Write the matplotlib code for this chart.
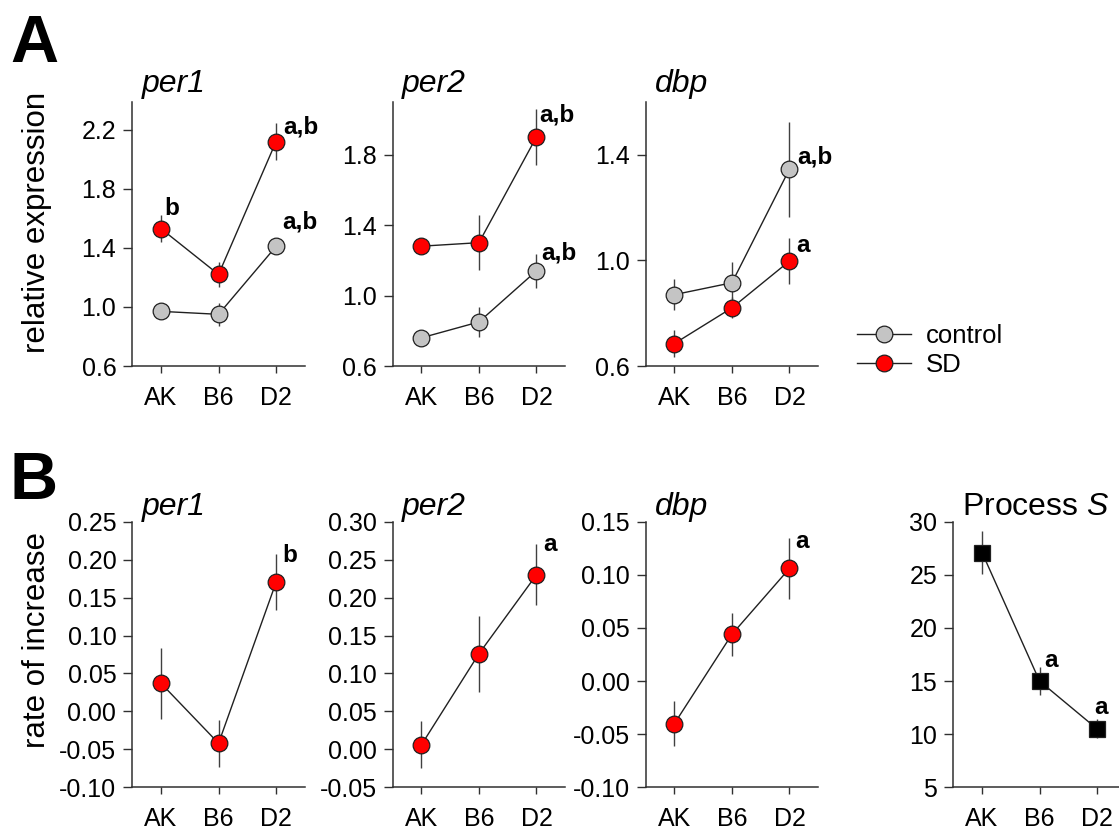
import numpy as np
import matplotlib
matplotlib.use('Agg')
import matplotlib.pyplot as plt
from matplotlib.lines import Line2D

plt.rcParams['font.family'] = ['Liberation Sans', 'DejaVu Sans']
plt.rcParams['axes.unicode_minus'] = False
plt.rcParams['mathtext.fontset'] = 'custom'
plt.rcParams['mathtext.rm'] = 'Liberation Sans'
plt.rcParams['mathtext.it'] = 'Liberation Sans:italic'

strains = ['AK', 'B6', 'D2']

# ---- A: relative expression (mean, error) ----
per1_ctrl = [0.97, 0.95, 1.41]
per1_ctrl_err = [0.03, 0.08, 0.03]
per1_sd = [1.53, 1.22, 2.12]
per1_sd_err = [0.09, 0.087, 0.125]

per2_ctrl = [0.76, 0.85, 1.14]
per2_ctrl_err = [0.03, 0.085, 0.095]
per2_sd = [1.28, 1.30, 1.90]
per2_sd_err = [0.03, 0.155, 0.16]

dbp_ctrl = [0.87, 0.915, 1.345]
dbp_ctrl_err = [0.06, 0.078, 0.18]
dbp_sd = [0.685, 0.82, 0.997]
dbp_sd_err = [0.05, 0.04, 0.087]

# ---- B: rate of increase ----
per1_rate = [0.037, -0.042, 0.170]
per1_rate_err = [0.047, 0.031, 0.037]
per2_rate = [0.006, 0.126, 0.230]
per2_rate_err = [0.031, 0.050, 0.040]
dbp_rate = [-0.040, 0.044, 0.106]
dbp_rate_err = [0.021, 0.020, 0.029]
procS = [27.1, 15.0, 10.5]
procS_err = [2.05, 1.3, 0.9]

# significance letters
per1_ctrl_sig = ['', '', 'a,b']
per1_sd_sig = ['b', '', 'a,b']
per2_ctrl_sig = ['', '', 'a,b']
per2_sd_sig = ['', '', 'a,b']
dbp_ctrl_sig = ['', '', 'a,b']
dbp_sd_sig = ['', '', 'a']
per1_rate_sig = ['', '', 'b']
per2_rate_sig = ['', '', 'a']
dbp_rate_sig = ['', '', 'a']
procS_sig = ['', 'a', 'a']

GREY = '#c4c4c4'
RED = '#ff0000'
DARK = '#202020'

W, H = 1119, 833
fig = plt.figure(figsize=(W / 100, H / 100), dpi=100)

lefts = [132.3, 392.7, 645.7, 953.3]
axw = 172.5
top_row = (101.7, 366.0)
bot_row = (521.7, 787.3)


def make_ax(left, row):
    top, bottom = row
    return fig.add_axes([left / W, 1 - bottom / H, axw / W, (bottom - top) / H])


def style(ax, ylim, ticks, fmt):
    ax.set_xlim(-0.5, 2.5)
    ax.set_ylim(*ylim)
    ax.set_xticks(range(len(strains)))
    ax.set_xticklabels(strains)
    ax.set_yticks(ticks)
    ax.set_yticklabels([fmt.format(round(t, 2) + 0.0) for t in ticks])
    for s in ['top', 'right']:
        ax.spines[s].set_visible(False)
    for s in ['left', 'bottom']:
        ax.spines[s].set_linewidth(1.1)
        ax.spines[s].set_color('#303030')
    ax.tick_params(direction='out', width=1.0, color='#303030', labelsize=18)
    ax.tick_params(axis='y', length=6.5, pad=5)
    ax.tick_params(axis='x', length=5.3, pad=9)


def title(ax, text, dy_px):
    ax.annotate(text, xy=(0, 1), xycoords='axes fraction',
                xytext=(9 * 0.72, dy_px * 0.72), textcoords='offset points',
                fontsize=23, ha='left', va='baseline')


def series(ax, y, err, face, marker='o', ms=12):
    x = np.arange(len(strains))
    ax.errorbar(x, y, yerr=err, fmt='none', ecolor='#404040',
                elinewidth=1.0, capsize=0, zorder=2)
    ax.plot(x, y, '-', color=DARK, lw=1.0, marker=marker, ms=ms,
            mfc=face, mec=DARK, mew=0.9, zorder=3)


def letters(ax, y, sig, offsets):
    for i, lab in enumerate(sig):
        if lab:
            dx, dy = offsets[i]
            ax.annotate(lab, xy=(i, y[i]), xytext=(dx * 0.72, dy * 0.72),
                        textcoords='offset points', fontsize=17.5,
                        fontweight='bold', ha='left', va='baseline')


# ---- row A ----
ax = make_ax(lefts[0], top_row)
series(ax, per1_ctrl, per1_ctrl_err, GREY)
series(ax, per1_sd, per1_sd_err, RED)
style(ax, (0.6, 2.39), np.arange(0.6, 2.21, 0.4), '{:.1f}')
letters(ax, per1_ctrl, per1_ctrl_sig, [None, None, (6, 17.7)])
letters(ax, per1_sd, per1_sd_sig, [(3.3, 13.3), None, (7.6, 8.4)])
title(ax, 'per1', 10)
ax.texts[-1].set_style('italic')

ax = make_ax(lefts[1], top_row)
series(ax, per2_ctrl, per2_ctrl_err, GREY)
series(ax, per2_sd, per2_sd_err, RED)
style(ax, (0.6, 2.1), np.arange(0.6, 1.81, 0.4), '{:.1f}')
letters(ax, per2_ctrl, per2_ctrl_sig, [None, None, (5, 11.7)])
letters(ax, per2_sd, per2_sd_sig, [None, None, (3.3, 15)])
title(ax, 'per2', 10)
ax.texts[-1].set_style('italic')

ax = make_ax(lefts[2], top_row)
series(ax, dbp_ctrl, dbp_ctrl_err, GREY)
series(ax, dbp_sd, dbp_sd_err, RED)
style(ax, (0.6, 1.6), np.arange(0.6, 1.41, 0.4), '{:.1f}')
letters(ax, dbp_ctrl, dbp_ctrl_sig, [None, None, (8.3, 6)])
letters(ax, dbp_sd, dbp_sd_sig, [None, None, (6.7, 9)])
title(ax, 'dbp', 10)
ax.texts[-1].set_style('italic')

handles = [Line2D([], [], color=DARK, lw=1.0, marker='o', ms=12, mfc=GREY, mec=DARK, mew=0.9),
           Line2D([], [], color=DARK, lw=1.0, marker='o', ms=12, mfc=RED, mec=DARK, mew=0.9)]
fig.legend(handles, ['control', 'SD'], loc='center left',
           bbox_to_anchor=(857.3 / W, 1 - 350.4 / H), frameon=False,
           fontsize=18.5, handlelength=2.1, handletextpad=0.55,
           labelspacing=0.2, borderpad=0, borderaxespad=0)

# ---- row B ----
ax = make_ax(lefts[0], bot_row)
series(ax, per1_rate, per1_rate_err, RED)
style(ax, (-0.10, 0.25), np.arange(-0.10, 0.251, 0.05), '{:.2f}')
letters(ax, per1_rate, per1_rate_sig, [None, None, (6, 20.6)])
title(ax, 'per1', 7)
ax.texts[-1].set_style('italic')

ax = make_ax(lefts[1], bot_row)
series(ax, per2_rate, per2_rate_err, RED)
style(ax, (-0.05, 0.30), np.arange(-0.05, 0.301, 0.05), '{:.2f}')
letters(ax, per2_rate, per2_rate_sig, [None, None, (6.6, 23.6)])
title(ax, 'per2', 7)
ax.texts[-1].set_style('italic')

ax = make_ax(lefts[2], bot_row)
series(ax, dbp_rate, dbp_rate_err, RED)
style(ax, (-0.10, 0.15), np.arange(-0.10, 0.151, 0.05), '{:.2f}')
letters(ax, dbp_rate, dbp_rate_sig, [None, None, (6, 20)])
title(ax, 'dbp', 7)
ax.texts[-1].set_style('italic')

ax = make_ax(lefts[3], bot_row)
series(ax, procS, procS_err, 'black', marker='s', ms=11)
style(ax, (5, 30), np.arange(5, 31, 5), '{:.0f}')
letters(ax, procS, procS_sig, [None, (5, 14), (-2.7, 15)])
title(ax, r'Process $\mathit{S}$', 7)

# axis labels and panel letters
fig.text(37 / W, 1 - 222 / H, 'relative expression', rotation=90,
         fontsize=22.5, ha='center', va='center')
fig.text(37 / W, 1 - 640 / H, 'rate of increase', rotation=90,
         fontsize=22.5, ha='center', va='center')
fig.text(10 / W, 1 - 62 / H, 'A', fontsize=48, fontweight='bold', va='baseline')
fig.text(10 / W, 1 - 499 / H, 'B', fontsize=48, fontweight='bold', va='baseline')

fig.savefig('out.png', dpi=100)
